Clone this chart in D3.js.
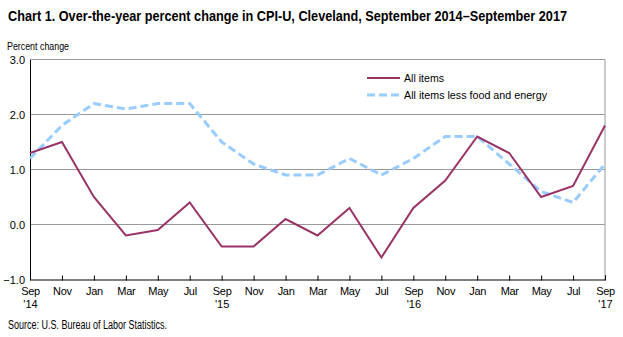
<!DOCTYPE html>
<html>
<head>
<meta charset="utf-8">
<script src="https://cdn.jsdelivr.net/npm/d3@7"></script>
<style>
  body { margin: 0; background: #fff; }
  text { font-family: "Liberation Sans", Arial, sans-serif; }
</style>
</head>
<body>
<div id="chart"></div>
<script>
// bimonthly points, Sep 2014 through Sep 2017
var months = ["Sep","Nov","Jan","Mar","May","Jul","Sep","Nov","Jan","Mar","May","Jul","Sep","Nov","Jan","Mar","May","Jul","Sep"];
var years = {0: "'14", 6: "'15", 12: "'16", 18: "'17"};
var allItems = [1.3, 1.5, 0.5, -0.2, -0.1, 0.4, -0.4, -0.4, 0.1, -0.2, 0.3, -0.6, 0.3, 0.8, 1.6, 1.3, 0.5, 0.7, 1.8];
var core = [1.2, 1.8, 2.2, 2.1, 2.2, 2.2, 1.5, 1.1, 0.9, 0.9, 1.2, 0.9, 1.2, 1.6, 1.6, 1.1, 0.6, 0.4, 1.1];
var yTicks = [-1.0, 0.0, 1.0, 2.0, 3.0];

var width = 623, height = 337;
var plotL = 30, plotR = 605, plotT = 59.5, plotB = 279.5;

var svg = d3.select("#chart").append("svg").attr("width", width).attr("height", height);

var x = d3.scaleLinear().domain([0, months.length - 1]).range([plotL, plotR]);
var y = d3.scaleLinear().domain([-1, 3]).range([plotB, plotT]);

// title and labels (squeezed to the narrow look of the original type)
svg.append("text").attr("x", 8).attr("y", 21)
    .attr("font-size", 15).attr("font-weight", "bold")
    .attr("textLength", 559).attr("lengthAdjust", "spacingAndGlyphs")
    .text("Chart 1. Over-the-year percent change in CPI-U, Cleveland, September 2014\u2013September 2017");

svg.append("text").attr("x", 7).attr("y", 50).attr("font-size", 11.5)
    .attr("textLength", 62).attr("lengthAdjust", "spacingAndGlyphs")
    .text("Percent change");

svg.append("text").attr("x", 8).attr("y", 329).attr("font-size", 12)
    .attr("textLength", 159).attr("lengthAdjust", "spacingAndGlyphs")
    .text("Source: U.S. Bureau of Labor Statistics.");

// gridlines
svg.selectAll(".grid").data(yTicks.filter(function(d) { return d > -1; }))
    .enter().append("line")
    .attr("x1", plotL).attr("x2", plotR)
    .attr("y1", function(d) { return y(d); }).attr("y2", function(d) { return y(d); })
    .attr("stroke", "#999").attr("stroke-width", 1);

svg.append("line").attr("x1", plotR).attr("x2", plotR).attr("y1", plotT).attr("y2", plotB)
    .attr("stroke", "#999");

// y axis
var yAxis = d3.axisLeft(y).tickValues(yTicks).tickSize(0).tickPadding(5)
    .tickFormat(d3.format(".1f"));
var gy = svg.append("g").attr("transform", "translate(" + plotL + ",0)").call(yAxis);
gy.select(".domain").attr("stroke", "#000");
gy.selectAll("text").attr("font-size", 11).attr("fill", "#000")
    .attr("font-family", "Liberation Sans, Arial, sans-serif");

// x axis
var xAxis = d3.axisBottom(x).tickValues(d3.range(months.length)).tickSizeOuter(0)
    .tickSize(-4).tickFormat(function(i) { return months[i]; });
var gx = svg.append("g").attr("transform", "translate(0," + plotB + ")").call(xAxis);
gx.select(".domain").attr("stroke", "#000");
gx.selectAll(".tick line").attr("stroke", "#000").attr("y1", 1);
gx.selectAll(".tick text").attr("font-size", 11).attr("fill", "#000").attr("y", 8)
    .attr("letter-spacing", "-0.3px")
    .attr("font-family", "Liberation Sans, Arial, sans-serif");
gx.selectAll(".tick").filter(function(i) { return years[i]; })
    .append("text").attr("y", 21).attr("dy", "0.71em").attr("text-anchor", "middle")
    .attr("font-size", 11).attr("fill", "#000")
    .text(function(i) { return years[i]; });

// series lines
var line = d3.line()
    .x(function(d, i) { return x(i); })
    .y(function(d) { return y(d); });

svg.append("path").attr("d", line(core))
    .attr("fill", "none").attr("stroke", "#99ccff").attr("stroke-width", 3)
    .attr("stroke-dasharray", "8,4");

svg.append("path").attr("d", line(allItems))
    .attr("fill", "none").attr("stroke", "#993366").attr("stroke-width", 2);

// legend
var legend = [
    {label: "All items", color: "#993366", w: 2, dash: null, len: 40},
    {label: "All items less food and energy", color: "#99ccff", w: 3, dash: "8,4", len: 143}
];
var lg = svg.selectAll(".legend").data(legend).enter().append("g")
    .attr("transform", function(d, i) { return "translate(367," + (78 + i * 17) + ")"; });
lg.append("line").attr("x1", 0).attr("x2", 33)
    .attr("stroke", function(d) { return d.color; })
    .attr("stroke-width", function(d) { return d.w; })
    .attr("stroke-dasharray", function(d) { return d.dash; });
lg.append("text").attr("x", 37).attr("dy", "0.35em").attr("font-size", 11.5)
    .attr("textLength", function(d) { return d.len; }).attr("lengthAdjust", "spacingAndGlyphs")
    .text(function(d) { return d.label; });
</script>
</body>
</html>
